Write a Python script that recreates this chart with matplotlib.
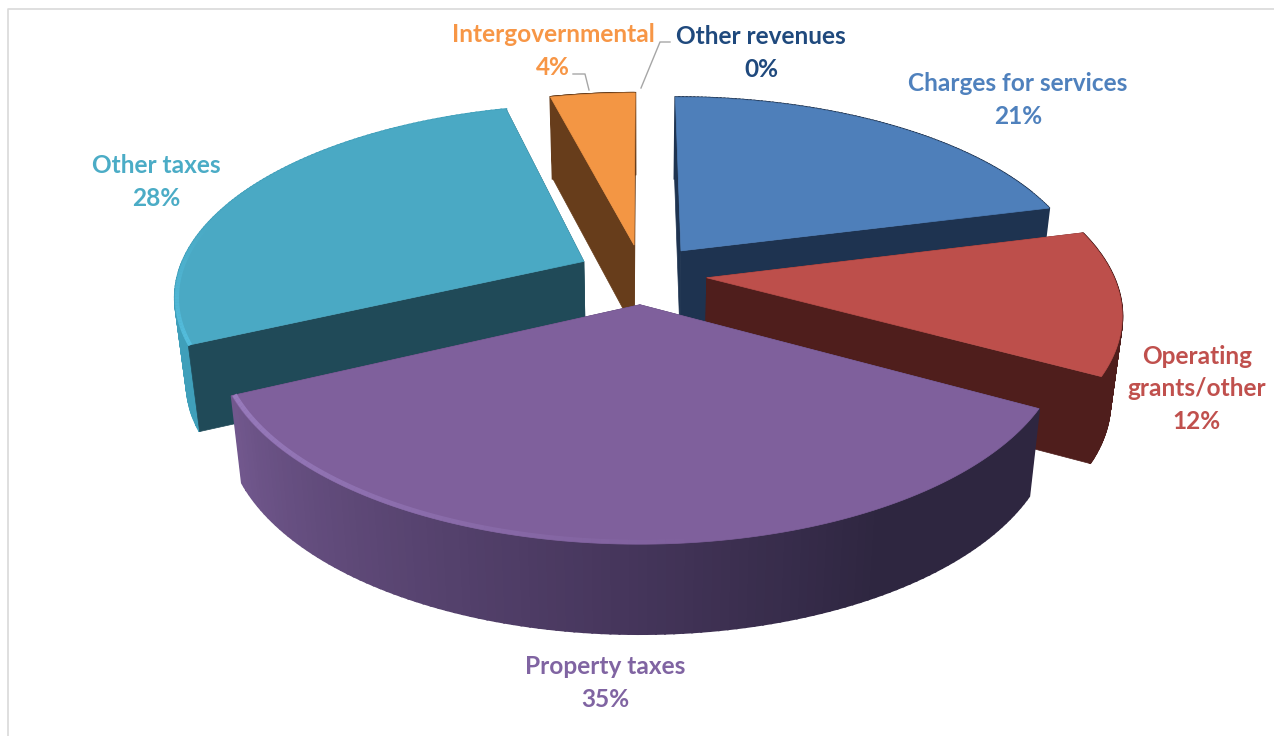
import numpy as np
import matplotlib
matplotlib.use("Agg")
import matplotlib.pyplot as plt
from matplotlib.patches import Polygon

# clockwise from 12 o'clock
categories = ["Charges for services", "Operating\ngrants/other", "Property taxes", "Other taxes", "Intergovernmental", "Other revenues"]
percents = [21, 12, 35, 28, 4, 0]

top_colors = ["#4e7fba", "#bd4f4b", "#7f609c", "#4aa9c4", "#f39644", "#1f497d"]
wall_colors = ["#1e3350", "#4f1e1c", "#4a3860", "#204a58", "#673d1b", "#1f3350"]
label_colors = ["#4f81bd", "#c0504d", "#8064a2", "#4bacc6", "#f79646", "#1f497d"]

# fake 3d camera, pixels
CX, CY = 642, 274
RX, RY = 406, 187
PERSP = 0.17
DEPTH = 85
EXPLODE = 0.16


def project(x, y, z=0.0):
    s = 1 / (1 + PERSP * y)
    px = CX + RX * x * s * (1 - 0.025 * z)
    py = CY - RY * y * s + DEPTH * z * s ** 0.25
    return px, py


def shade(hex1, hex2, t):
    c1 = np.array(matplotlib.colors.to_rgb(hex1))
    c2 = np.array(matplotlib.colors.to_rgb(hex2))
    return tuple(c1 + (c2 - c1) * t)


def draw_wedge(ax, start, stop, top, wall, zbase, wall_fn=None, cut_on_top=False):
    mid = np.radians((start + stop) / 2)
    ox, oy = EXPLODE * np.sin(mid), EXPLODE * np.cos(mid)
    angles = np.radians(np.linspace(start, stop, 120))
    xs = ox + np.sin(angles)
    ys = oy + np.cos(angles)

    # flat cut faces
    zcut = zbase + 0.1 if cut_on_top else zbase - 0.1
    for a in (0, -1):
        corners = [project(ox, oy), project(xs[a], ys[a]), project(xs[a], ys[a], 1), project(ox, oy, 1)]
        ax.add_patch(Polygon(corners, closed=True, fc=wall, ec=wall, lw=0.5, zorder=zcut))

    # outer rim, small steps so the shading can change
    for i in range(len(angles) - 1):
        col = wall if wall_fn is None else wall_fn(np.degrees(angles[i]))
        quad = [project(xs[i], ys[i]), project(xs[i + 1], ys[i + 1]),
                project(xs[i + 1], ys[i + 1], 1), project(xs[i], ys[i], 1)]
        ax.add_patch(Polygon(quad, closed=True, fc=col, ec=col, lw=1.5, zorder=zbase))

    pts = [project(ox, oy)] + [project(x, y) for x, y in zip(xs, ys)]
    ax.add_patch(Polygon(pts, closed=True, fc=top, ec=top, lw=0.5, zorder=zbase + 0.2))
    return xs, ys


def property_wall(deg):
    # light on the left, almost black on the right
    t = (244.8 - deg) / 126.0
    if t < 0.5:
        return shade("#72588e", "#46365c", t / 0.5)
    return shade("#46365c", "#2e2640", min((t - 0.5) / 0.25, 1))


def other_wall(deg):
    return "#3f9fba"


fig = plt.figure(figsize=(12.74, 7.36), dpi=100)
ax = fig.add_axes([0, 0, 1, 1])
ax.set_xlim(0, 1274)
ax.set_ylim(736, 0)
ax.axis("off")

# frame of the pasted picture
ax.plot([7.5, 7.5, 1274], [736, 8.5, 8.5], color="#d9d9d9", lw=1.2, zorder=1)

edges = np.cumsum([0] + percents) * 3.6
draw_order = [0, 4, 3, 1, 2]
wall_fns = {2: property_wall, 3: other_wall}
for n, i in enumerate(draw_order):
    xs, ys = draw_wedge(ax, edges[i], edges[i + 1], top_colors[i], wall_colors[i], 2 + n, wall_fns.get(i), i == 3)
    if i == 3:
        # lighter rim on the left side of other taxes
        for j in range(0, 45):
            p1 = project(xs[j], ys[j])
            p2 = project(xs[j + 1], ys[j + 1])
            ax.plot([p1[0] + 2, p2[0] + 2], [p1[1], p2[1]], color="#55c0e0", lw=3,
                    alpha=0.9 * (1 - j / 45), zorder=2 + n + 0.3, solid_capstyle="butt")
    if i == 2:
        # bevel highlight along the front edge
        for j in range(50, len(xs) - 1):
            p1 = project(xs[j] * 0.994, ys[j] * 0.994)
            p2 = project(xs[j + 1] * 0.994, ys[j + 1] * 0.994)
            a = (j - 50) / (len(xs) - 50)
            ax.plot([p1[0], p2[0]], [p1[1], p2[1]], color="#a488cc", lw=3.5,
                    alpha=0.7 * a, zorder=2 + n + 0.3, solid_capstyle="butt")

# leader lines
ax.plot([573, 585, 589], [74, 74, 90], color="#a6a6a6", lw=1, zorder=10)
ax.plot([670, 660, 641], [42, 42, 88], color="#a6a6a6", lw=1, zorder=10)

label_pos = [(1018, 100), (1197, 389), (605, 683), (156, 182), (553, 51), (761, 53)]
for name, pct, col, (lx, ly) in zip(categories, percents, label_colors, label_pos):
    ax.text(lx, ly, "{}\n{}%".format(name, pct), color=col, ha="center", va="center",
            fontsize=17.6, fontweight="bold", family="Lato", linespacing=1.5, zorder=11)

fig.savefig("out.png", dpi=100)
